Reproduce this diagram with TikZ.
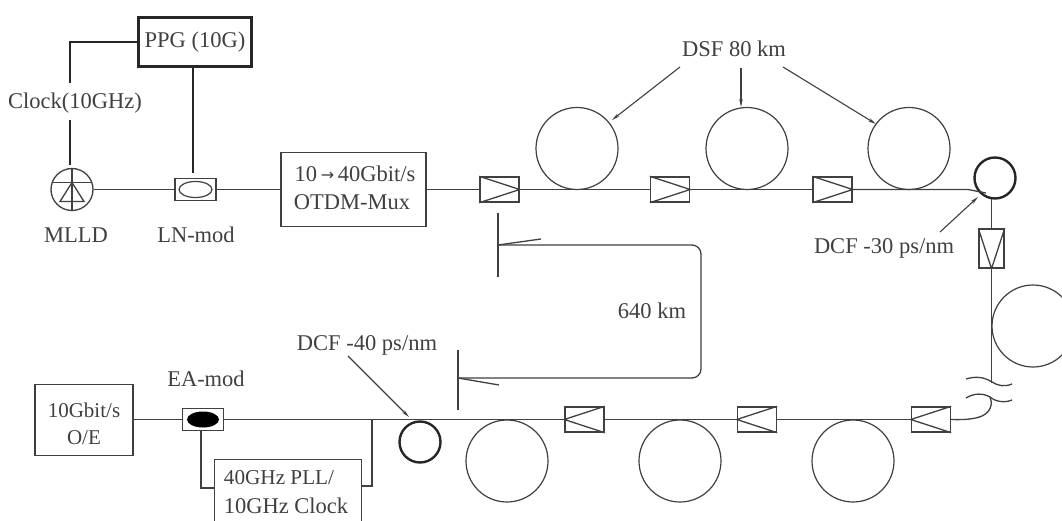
\documentclass[tikz,border=0pt]{standalone}
\usepackage{fontspec}
\setmainfont{Liberation Serif}
\usetikzlibrary{arrows.meta,calc,shapes.geometric}
\definecolor{ink}{gray}{0.25}
\tikzset{
  x=1pt,y=-1pt,
  every node/.style={text=ink},
  wire/.style={draw=ink,line width=1.3pt},
  thick wire/.style={draw=black!85,line width=2.2pt},
  box/.style={draw=ink,line width=1.4pt,fill=white,inner sep=0pt,align=center,font=\fontsize{22.5}{27}\selectfont},
  label/.style={inner sep=0pt,align=center,font=\fontsize{22.5}{27}\selectfont},
  coil/.style={circle,draw=ink,line width=1.2pt,minimum size=82pt,inner sep=0pt},
  dcf/.style={circle,draw=black!85,line width=2.4pt,minimum size=41pt,inner sep=0pt},
  amp/.style={rectangle,draw=ink,line width=1.4pt,fill=white,minimum width=39pt,minimum height=25pt,inner sep=0pt},
  vamp/.style={rectangle,draw=ink,line width=1.4pt,fill=white,minimum width=25pt,minimum height=39pt,inner sep=0pt},
  modbox/.style={rectangle,draw=ink,line width=1.4pt,minimum width=41pt,minimum height=22pt,inner sep=0pt},
  pointer/.style={draw=ink,line width=1.1pt,-{Stealth[length=8pt,width=3.5pt]}},
}
\newcommand{\ampR}[1]{\draw[wire] (#1.north west) -- (#1.east) -- (#1.south west);}
\newcommand{\ampL}[1]{\draw[wire] (#1.north east) -- (#1.west) -- (#1.south east);}
\begin{document}
\begin{tikzpicture}
\useasboundingbox (0,0) rectangle (1062,521);
\clip (0,0) rectangle (1062,521);
\fill[white] (0,0) rectangle (1062,521);

% coils
\node[coil] (c1) at (577,148.5) {};
\node[coil] (c2) at (747,148.5) {};
\node[coil] (c3) at (909,148.5) {};
\node[coil] (c4) at (1033,326) {};
\node[coil] (c5) at (853,461) {};
\node[coil] (c6) at (680,461) {};
\node[coil] (c7) at (507,461) {};

% boxes
\node[box,draw=black!85,line width=2.2pt,minimum width=113pt,minimum height=49pt] (ppg) at (195,42) {PPG (10G)};
\node[box,minimum width=145pt,minimum height=74pt] (mux) at (353.5,189.5) {};
\node[label] at (355,174) {10\,\raisebox{1pt}{\fontspec{DejaVu Sans}\fontsize{16}{16}\selectfont→}\,40Gbit/s};
\node[label] at (352,202) {OTDM-Mux};
\node[box,minimum width=98pt,minimum height=71pt] (oe) at (84,420) {};
\node[label,font=\fontsize{21}{27}\selectfont] at (84,423.5) {10Gbit/s\\O/E};
\node[box,minimum width=147pt,minimum height=90pt,anchor=north west] (pll) at (214,459) {};
\node[label,font=\fontsize{21.2}{27}\selectfont] at (279,478) {40GHz PLL/};
\node[label] at (286,506) {10GHz Clock};

% source and modulators
\node[circle,draw=ink,line width=1.3pt,minimum size=42pt,inner sep=0pt] (mlld) at (72,189.5) {};
\draw[wire] ($(mlld)+(-20,-7)$) -- ($(mlld)+(20,-7)$);
\draw[wire] ($(mlld)+(0,-21)$) -- ($(mlld)+(0,21)$);
\draw[wire] ($(mlld)+(0,-7)$) -- ($(mlld)+(-12,12)$) -- ($(mlld)+(12,12)$) -- cycle;
\node[modbox] (ln) at (195.5,189.5) {};
\node[ellipse,draw=ink,line width=1.2pt,minimum width=33pt,minimum height=16pt,inner sep=0pt] at (ln) {};
\node[modbox] (ea) at (203,419.5) {};
\fill[black] (ea) ellipse (16pt and 8pt);

% amplifiers
\node[amp] (a1) at (499.5,189.5) {}; \ampR{a1}
\node[amp] (a2) at (670,189.5) {}; \ampR{a2}
\node[amp] (a3) at (832.5,189.5) {}; \ampR{a3}
\node[vamp] (a4) at (991.5,248.5) {};
\draw[wire] (a4.north west) -- (a4.south) -- (a4.north east);
\node[amp] (a5) at (931,419.5) {}; \ampL{a5}
\node[amp] (a6) at (757,419.5) {}; \ampL{a6}
\node[amp] (a7) at (584.5,419.5) {}; \ampL{a7}

% DCF coils
\node[dcf] (d1) at (995,178) {};
\node[dcf] (d2) at (420,442) {};

% labels
\node[label] (clk) at (75,103) {Clock(10GHz)};
\node[label] at (76,235) {MLLD};
\node[label] at (196,235) {LN-mod};
\node[label] (dsf) at (734,49) {DSF 80 km};
\node[label] (dcfa) at (884,248) {DCF -30 ps/nm};
\node[label] (dcfb) at (367,345) {DCF -40 ps/nm};
\node[label] at (652,311) {640 km};
\node[label] at (206,379) {EA-mod};

% thick control lines
\draw[thick wire] (ppg.west) -| (70,83);
\draw[thick wire] (70,120) -- (70,165);
\draw[thick wire] (ppg.south -| 193,0) -- (193,173);

% top path
\draw[wire] (mlld.east) -- (ln.west);
\draw[wire] (ln.east) -- (mux.west);
\draw[wire] (mux.east) -- (a1.west);
\draw[wire] (a1.east) -- (a2.west);
\draw[wire] (a2.east) -- (a3.west);
\draw[wire] (a3.east) -- (968,189.5) -- (986,193);
% right path
\draw[wire] (991.5,199) -- (a4.north);
\draw[wire] (a4.south) -- (991.5,383);
\draw[wire] (966,379) .. controls (976,376) and (984,377) .. (992,382) .. controls (998,386) and (1005,387) .. (1012,384);
\draw[wire] (966,398) .. controls (974,393) and (983,393) .. (990,397)
  .. controls (993,403) and (991,412) .. (982,416) .. controls (975,419) and (965,420) .. (a5.east);
\draw[wire] (990,397) .. controls (996,402) and (1005,403) .. (1012,400);
% bottom path
\draw[wire] (a5.west) -- (a6.east);
\draw[wire] (a6.west) -- (a7.east);
\draw[wire] (a7.west) -- (ea.east);
\draw[wire] (ea.west) -- (ea.west -| oe.east);
\draw[wire] (ea.south -| 201,0) |- (pll.west |- 0,488);
\draw[wire] (pll.east |- 0,486) -| (372,419.5);

% loop
\draw[wire] (498,213) -- (498,277);
\draw[wire] (458,350) -- (458,410);
\draw[wire,rounded corners=9pt] (498,245) -- (701,245) -- (701,378) -- (458,378);
\draw[wire] (498,245) -- (541,239);
\draw[wire] (458,378) -- (499,385);

% pointers
\draw[pointer] (680,67) -- (612,120);
\draw[pointer] (741,68) -- (741,107);
\draw[pointer] (783,67) -- (876,124);
\draw[pointer] (940,232) -- (978,197);
\draw[pointer] (348,356) -- (409,417);
\end{tikzpicture}
\end{document}
